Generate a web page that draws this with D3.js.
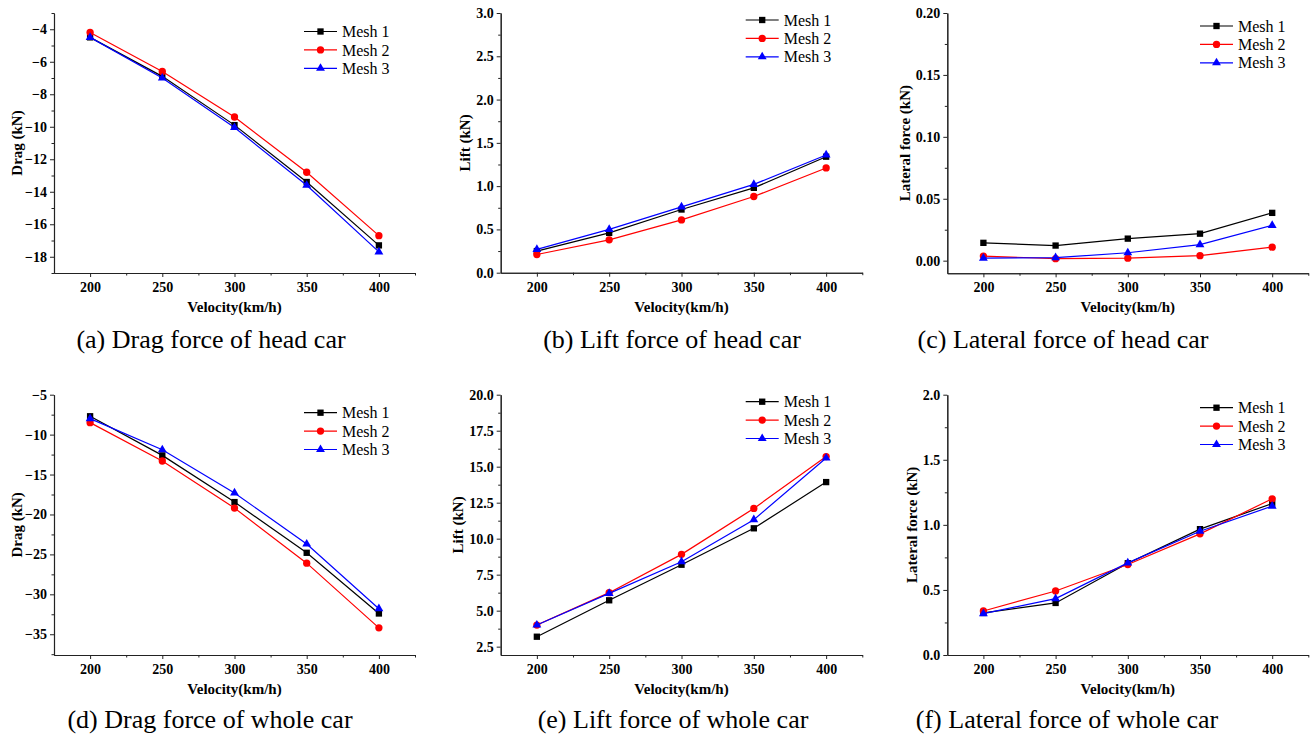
<!DOCTYPE html>
<html>
<head>
<meta charset="utf-8">
<script src="https://cdn.jsdelivr.net/npm/d3@7"></script>
<style>
	body { margin: 0; background: #fff; }
	svg { display: block; }
	text { font-family: "Liberation Serif", "Times New Roman", serif; fill: #000; }
	.tick text { font-weight: bold; font-size: 14px; }
	.axis path, .axis line { stroke: #222; }
	.axis-title { font-weight: bold; font-size: 15px; }
	.legend text { font-size: 16px; }
	.caption { font-size: 26px; }
</style>
</head>
<body>
<script>
	"use strict";

	var velocity = [200, 250, 300, 350, 400];
	var meshNames = ["Mesh 1", "Mesh 2", "Mesh 3"];

	var headDragMesh1 = [-4.5, -6.9, -9.9, -13.4, -17.3];
	var headDragMesh2 = [-4.2, -6.6, -9.4, -12.8, -16.7];
	var headDragMesh3 = [-4.5, -7.0, -10.05, -13.6, -17.7];

	var headLiftMesh1 = [0.25, 0.46, 0.73, 0.98, 1.34];
	var headLiftMesh2 = [0.21, 0.38, 0.61, 0.88, 1.21];
	var headLiftMesh3 = [0.27, 0.50, 0.76, 1.02, 1.36];

	var headLateralMesh1 = [0.0144, 0.0122, 0.0178, 0.0218, 0.0386];
	var headLateralMesh2 = [0.0037, 0.0016, 0.002, 0.004, 0.0109];
	var headLateralMesh3 = [0.002, 0.0024, 0.0064, 0.013, 0.0285];

	var wholeDragMesh1 = [-7.7, -12.6, -18.45, -24.8, -32.4];
	var wholeDragMesh2 = [-8.5, -13.3, -19.2, -26.1, -34.2];
	var wholeDragMesh3 = [-8.0, -11.9, -17.3, -23.7, -31.8];

	var wholeLiftMesh1 = [3.19, 5.72, 8.19, 10.72, 13.93];
	var wholeLiftMesh2 = [4.0, 6.25, 8.91, 12.1, 15.7];
	var wholeLiftMesh3 = [4.0, 6.2, 8.4, 11.32, 15.6];

	var wholeLateralMesh1 = [0.323, 0.40, 0.705, 0.967, 1.164];
	var wholeLateralMesh2 = [0.338, 0.492, 0.695, 0.931, 1.2];
	var wholeLateralMesh3 = [0.318, 0.433, 0.708, 0.951, 1.144];

	var xTicks = [200, 250, 300, 350, 400];

	var meshColors = ["#000000", "#ff0000", "#0000ff"];
	var meshSymbols = [d3.symbolSquare, d3.symbolCircle, d3.symbolTriangle];
	var symbolSizes = [40, 42, 34];

	var panels = [
		{ series: [headDragMesh1, headDragMesh2, headDragMesh3], yTitle: "Drag (kN)", caption: "(a) Drag force of head car",
			domain: [-19, -3], ticks: d3.range(-18, -3.5, 2), step: 2, fmt: d3.format("d"),
			left: 54, right: 415, top: 13, bottom: 273, titleX: 17, legendX: 304, legendY: 31.5, captionX: 211, captionY: 348 },
		{ series: [headLiftMesh1, headLiftMesh2, headLiftMesh3], yTitle: "Lift (kN)", caption: "(b) Lift force of head car",
			domain: [0, 3], ticks: d3.range(0, 3.01, 0.5), step: 0.5, fmt: d3.format(".1f"),
			left: 500.7, right: 862.3, top: 13, bottom: 272.7, titleX: 465, legendX: 745.7, legendY: 20, captionX: 672, captionY: 348 },
		{ series: [headLateralMesh1, headLateralMesh2, headLateralMesh3], yTitle: "Lateral force (kN)", caption: "(c) Lateral force of head car",
			domain: [-0.0102, 0.2], ticks: d3.range(0, 0.2001, 0.05), step: 0.05, fmt: d3.format(".2f"),
			left: 947.3, right: 1308.3, top: 13, bottom: 273.3, titleX: 905, legendX: 1200, legendY: 26, captionX: 1063, captionY: 348 },
		{ series: [wholeDragMesh1, wholeDragMesh2, wholeDragMesh3], yTitle: "Drag (kN)", caption: "(d) Drag force of whole car",
			domain: [-37.6, -5], ticks: d3.range(-35, -4.9, 5), step: 5, fmt: d3.format("d"),
			left: 54, right: 415, top: 394.7, bottom: 655, titleX: 17, legendX: 304, legendY: 412.7, captionX: 210, captionY: 728 },
		{ series: [wholeLiftMesh1, wholeLiftMesh2, wholeLiftMesh3], yTitle: "Lift (kN)", caption: "(e) Lift force of whole car",
			domain: [1.92, 20], ticks: d3.range(2.5, 20.01, 2.5), step: 2.5, fmt: d3.format(".1f"),
			left: 500.7, right: 862.3, top: 394.7, bottom: 655, titleX: 458, legendX: 745.7, legendY: 401.7, captionX: 673, captionY: 728 },
		{ series: [wholeLateralMesh1, wholeLateralMesh2, wholeLateralMesh3], yTitle: "Lateral force (kN)", caption: "(f) Lateral force of whole car",
			domain: [0, 2], ticks: d3.range(0, 2.01, 0.5), step: 0.5, fmt: d3.format(".1f"),
			left: 947.3, right: 1308.3, top: 394.7, bottom: 655, titleX: 912, legendX: 1200, legendY: 407.7, captionX: 1067, captionY: 728 }
	];

	var svg = d3.select("body").append("svg")
		.attr("width", 1311)
		.attr("height", 737);

	panels.forEach(function(p) {
		var g = svg.append("g");

		var x = d3.scaleLinear().domain([175, 425]).range([p.left, p.right]);
		var y = d3.scaleLinear().domain(p.domain).range([p.bottom, p.top]);

		// minor ticks sit halfway between the major ones
		var xMinor = [225, 275, 325, 375, 425];
		var yMinor = [];
		var lo = p.ticks[0] - p.step / 2;
		while (lo >= p.domain[0] - 1e-9) { yMinor.push(lo); lo -= p.step; }
		p.ticks.forEach(function(t) {
			var m = t + p.step / 2;
			if (m <= p.domain[1] + 1e-9) yMinor.push(m);
		});

		g.append("g").attr("class", "axis")
			.attr("transform", "translate(0," + p.bottom + ")")
			.call(d3.axisBottom(x).tickValues(xMinor).tickSize(2.5).tickSizeOuter(0).tickFormat(""));
		g.append("g").attr("class", "axis")
			.attr("transform", "translate(0," + p.bottom + ")")
			.call(d3.axisBottom(x).tickValues(xTicks).tickSize(4).tickSizeOuter(0).tickPadding(5).tickFormat(d3.format("d")));

		g.append("g").attr("class", "axis")
			.attr("transform", "translate(" + p.left + ",0)")
			.call(d3.axisLeft(y).tickValues(yMinor).tickSize(2.5).tickSizeOuter(0).tickFormat(""));
		g.append("g").attr("class", "axis")
			.attr("transform", "translate(" + p.left + ",0)")
			.call(d3.axisLeft(y).tickValues(p.ticks).tickSize(4).tickSizeOuter(0).tickPadding(3).tickFormat(p.fmt));

		g.selectAll(".axis .domain").attr("stroke-width", 1.1);

		g.append("text").attr("class", "axis-title")
			.attr("x", (p.left + p.right) / 2)
			.attr("y", p.bottom + 39)
			.attr("text-anchor", "middle")
			.text("Velocity(km/h)");

		g.append("text").attr("class", "axis-title")
			.attr("transform", "translate(" + (p.titleX + 5) + "," + ((p.top + p.bottom) / 2) + ") rotate(-90)")
			.attr("text-anchor", "middle")
			.text(p.yTitle);

		var line = d3.line()
			.x(function(d, i) { return x(velocity[i]); })
			.y(function(d) { return y(d); });

		p.series.forEach(function(values, s) {
			g.append("path")
				.datum(values)
				.attr("d", line)
				.attr("fill", "none")
				.attr("stroke", meshColors[s])
				.attr("stroke-width", 1.2);

			g.selectAll(".pt" + s)
				.data(values)
				.enter().append("path")
				.attr("class", "pt" + s)
				.attr("transform", function(d, i) { return "translate(" + x(velocity[i]) + "," + y(d) + ")"; })
				.attr("d", d3.symbol().type(meshSymbols[s]).size(symbolSizes[s]))
				.attr("fill", meshColors[s]);
		});

		var legend = g.append("g").attr("class", "legend")
			.attr("transform", "translate(" + p.legendX + "," + p.legendY + ")");

		meshNames.forEach(function(name, s) {
			var row = legend.append("g").attr("transform", "translate(0," + (s * 18.4) + ")");
			row.append("line")
				.attr("x1", 0).attr("x2", 33)
				.attr("stroke", meshColors[s])
				.attr("stroke-width", 1.2);
			row.append("path")
				.attr("transform", "translate(16.5,0)")
				.attr("d", d3.symbol().type(meshSymbols[s]).size(symbolSizes[s]))
				.attr("fill", meshColors[s]);
			row.append("text")
				.attr("x", 38)
				.attr("dy", "0.35em")
				.text(name);
		});

		g.append("text").attr("class", "caption")
			.attr("x", p.captionX)
			.attr("y", p.captionY)
			.attr("text-anchor", "middle")
			.text(p.caption);
	});
</script>
</body>
</html>
